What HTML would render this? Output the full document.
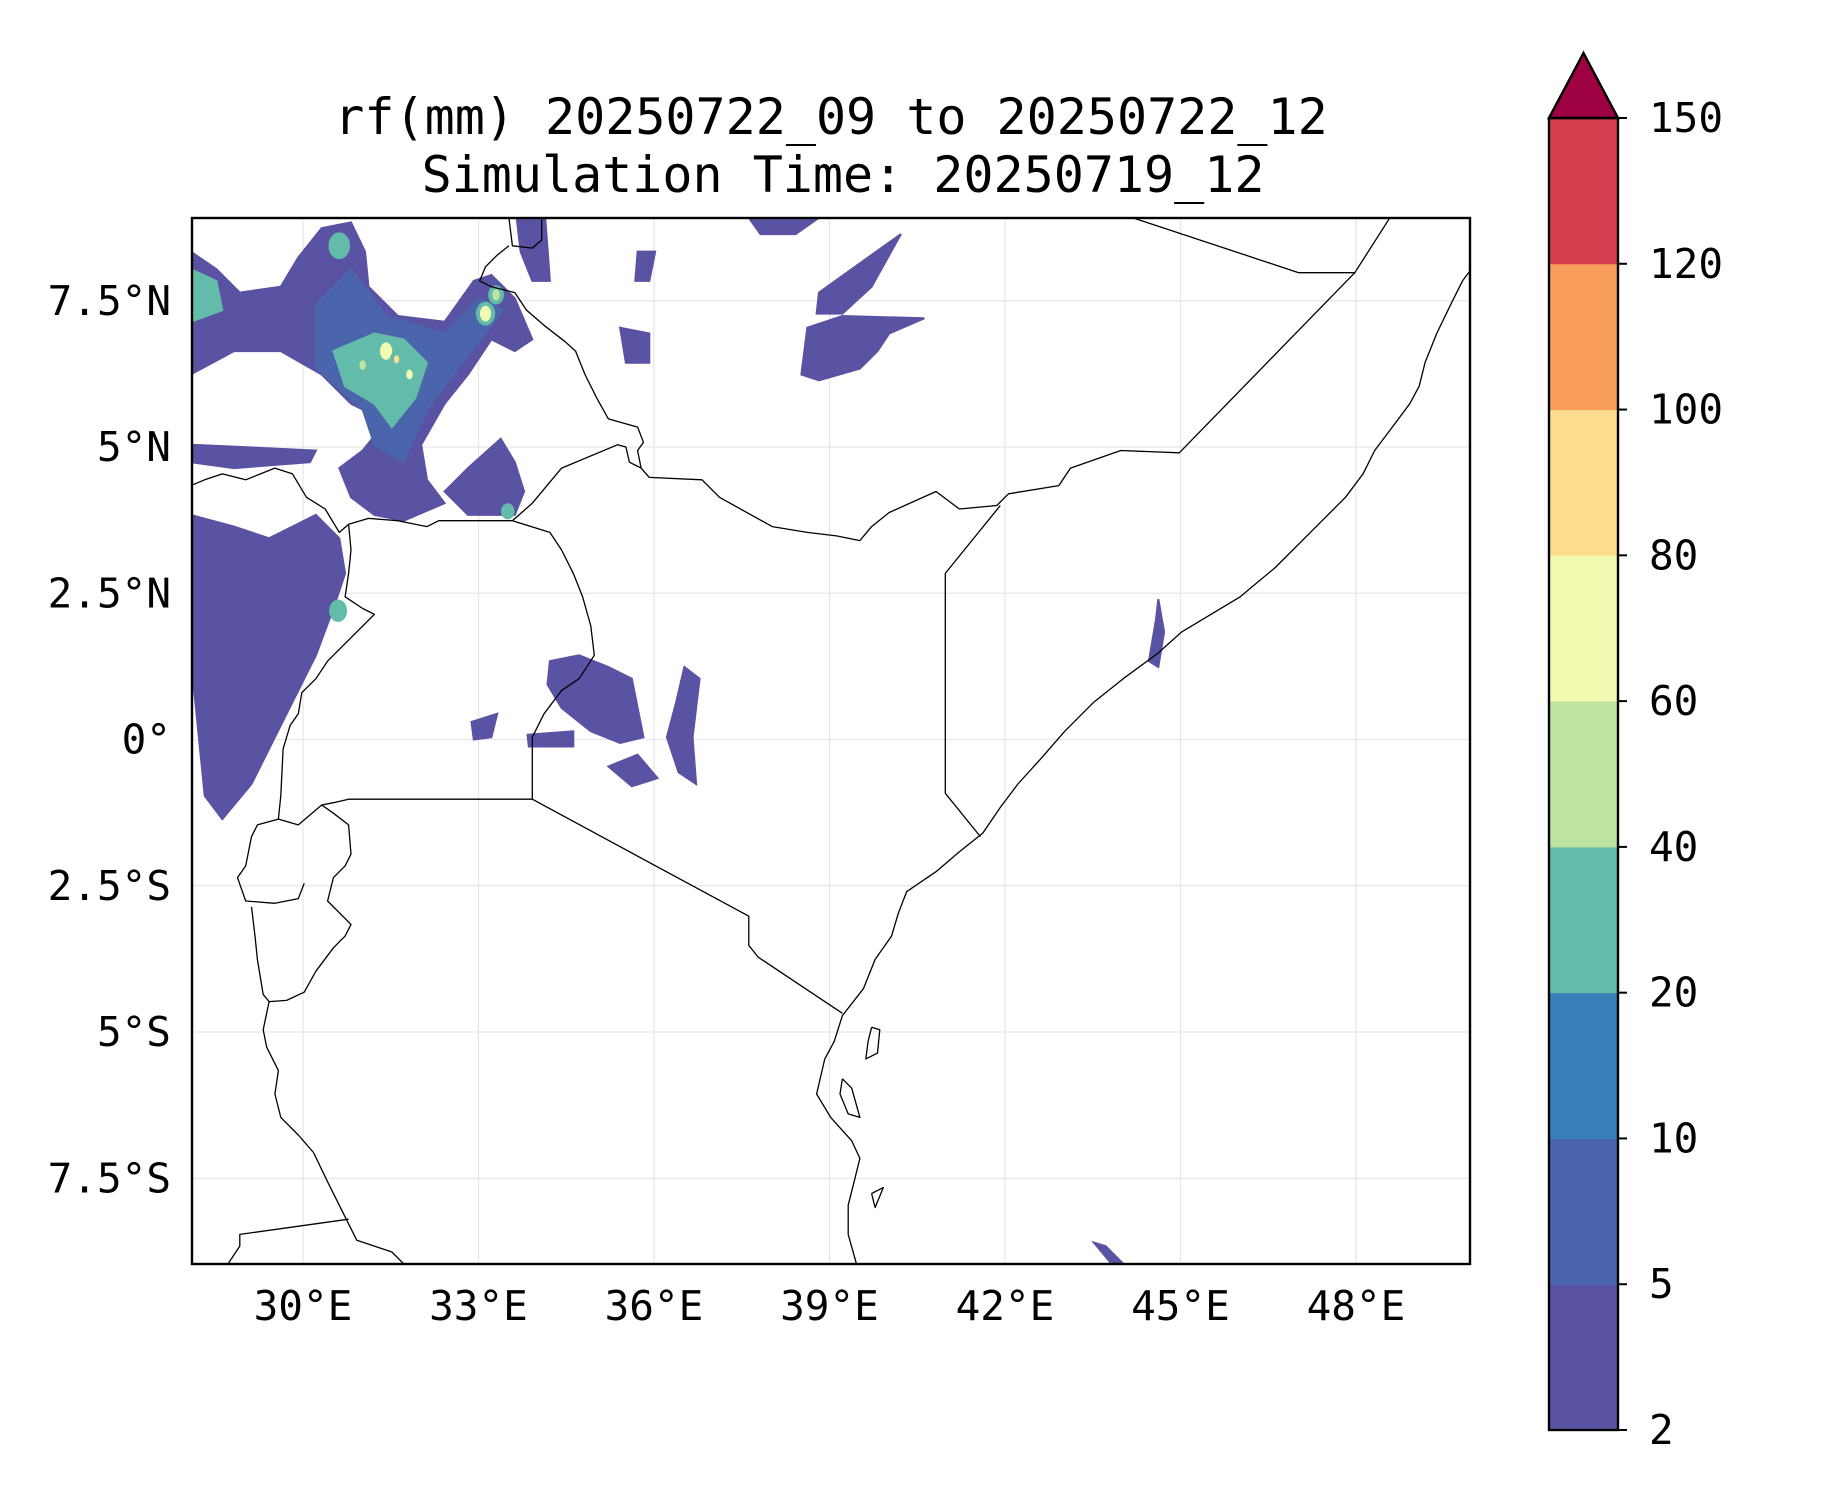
<!DOCTYPE html>
<html><head><meta charset="utf-8">
<style>
html,body{margin:0;padding:0;background:#fff;}
svg text{font-family:"DejaVu Sans Mono","Liberation Mono",monospace;fill:#000;}
</style></head>
<body>
<svg id="chart" width="1833" height="1500" viewBox="0 0 1833 1500" xmlns="http://www.w3.org/2000/svg">
  <text x="831" y="134" font-size="50" text-anchor="middle">rf(mm) 20250722_09 to 20250722_12</text>
  <text x="843" y="192" font-size="50" text-anchor="middle">Simulation Time: 20250719_12</text>
  <defs><clipPath id="plotclip"><rect x="192" y="218" width="1278" height="1046"/></clipPath></defs>
  <g id="grid"></g>
  <g id="rain" clip-path="url(#plotclip)"></g>
  <g id="geo" clip-path="url(#plotclip)"></g>
  <rect x="192" y="218" width="1278" height="1046" fill="none" stroke="#000" stroke-width="2.4"/>
  <g id="axes"></g>
  <g id="cbar"></g>
</svg>
<script>
const levels = [2,5,10,20,40,60,80,100,120,150];
const levelColors = ["#5a52a3","#4b65ad","#3780b8","#63bca9","#bde4a0","#f2f9b1","#fcdd8e","#f99d5a","#d53e4f"];
const extendColor = "#9e0142";
const lonTicks = [30,33,36,39,42,45,48];
const lonLabels = ["30°E","33°E","36°E","39°E","42°E","45°E","48°E"];
const latTicks = [7.5,5,2.5,0,-2.5,-5,-7.5];
const latLabels = ["7.5°N","5°N","2.5°N","0°","2.5°S","5°S","7.5°S"];

// rainfall regions: [levelIndex, lon/lat polygon]
const rainLevels = [0,1,3,0,0,0,0,0,0,0,0,0,0,0,0,0,0,0,0,3];
const rainShapes = [
 [[28.08,8.34],[28.52,8.04],[28.92,7.64],[29.62,7.74],[29.92,8.24],[30.32,8.74],[30.82,8.84],[31.06,8.34],[31.12,7.74],[31.62,7.24],[32.42,7.14],[32.92,7.84],[33.22,7.94],[33.62,7.54],[33.92,6.84],[33.62,6.64],[33.22,6.84],[32.82,6.24],[32.42,5.74],[32.02,5.04],[32.12,4.44],[32.42,4.04],[31.72,3.74],[31.22,3.84],[30.82,4.14],[30.62,4.64],[31.02,4.94],[31.42,5.44],[30.82,5.74],[30.32,6.24],[29.62,6.64],[28.82,6.64],[28.08,6.24]],
 [[30.22,7.44],[30.82,8.04],[31.42,7.24],[32.42,6.94],[33.02,7.54],[33.42,7.34],[32.72,6.44],[32.12,5.64],[31.72,4.74],[31.22,5.04],[31.02,5.64],[30.22,6.34]],
 [[30.52,6.64],[31.22,6.94],[31.72,6.84],[32.12,6.44],[31.92,5.84],[31.52,5.34],[31.22,5.74],[30.72,6.04]],
 [[28.08,3.84],[28.82,3.64],[29.42,3.44],[30.22,3.84],[30.62,3.44],[30.72,2.84],[30.52,2.24],[30.22,1.44],[29.92,0.84],[29.52,0.04],[29.12,-0.76],[28.62,-1.36],[28.32,-0.96],[28.08,1.44]],
 [[34.22,1.34],[34.72,1.44],[35.22,1.24],[35.62,1.04],[35.82,0.04],[35.42,-0.06],[34.92,0.14],[34.42,0.54],[34.18,0.94]],
 [[36.52,1.24],[36.78,1.04],[36.66,0.04],[36.72,-0.76],[36.42,-0.56],[36.22,0.04],[36.38,0.64]],
 [[35.22,-0.46],[35.72,-0.26],[36.06,-0.66],[35.62,-0.8]],
 [[38.62,7.04],[39.22,7.24],[40.62,7.2],[40.02,6.94],[39.82,6.64],[39.52,6.34],[38.82,6.14],[38.52,6.24]],
 [[38.82,7.64],[39.52,8.14],[40.22,8.64],[39.72,7.74],[39.22,7.28],[38.78,7.28]],
 [[37.62,8.92],[38.82,8.92],[38.42,8.64],[37.82,8.64]],
 [[44.62,2.4],[44.72,1.84],[44.62,1.24],[44.46,1.34],[44.58,2.04]],
 [[43.52,-8.6],[43.72,-8.66],[44.02,-8.96],[43.82,-8.96]],
 [[33.38,5.14],[33.62,4.74],[33.78,4.24],[33.62,3.84],[32.82,3.84],[32.42,4.24],[32.82,4.64]],
 [[35.42,7.04],[35.92,6.94],[35.92,6.44],[35.52,6.44]],
 [[33.62,9.2],[34.12,9.2],[34.22,7.84],[33.92,7.84],[33.72,8.34]],
 [[28.08,5.04],[30.22,4.94],[30.12,4.74],[28.82,4.64],[28.08,4.74]],
 [[32.88,0.3],[33.32,0.44],[33.22,0.04],[32.92,0.0]],
 [[33.84,0.08],[34.62,0.14],[34.62,-0.12],[33.86,-0.12]],
 [[35.72,8.34],[36.02,8.34],[35.92,7.84],[35.68,7.84]],
 [[28.08,8.04],[28.52,7.84],[28.62,7.34],[28.08,7.14]]
];
// intense spots
const spotLon = [31.42,31.02,31.82,33.12,33.3,30.6,33.5,30.62,31.6];
const spotLat = [6.64,6.4,6.24,7.28,7.6,2.2,3.9,8.44,6.5];
const spotR   = [0.14,0.09,0.09,0.13,0.1,0.12,0.08,0.15,0.08];
const spotLvl = [5,4,5,5,4,3,3,3,6];

const geoLines = [
 [[49.94,8.0],[49.82,7.84],[49.62,7.44],[49.38,6.94],[49.18,6.44],[49.08,6.04],[48.92,5.74],[48.62,5.34],[48.32,4.94],[48.12,4.54],[47.82,4.14],[47.22,3.54],[46.62,2.94],[46.02,2.44],[45.02,1.84],[44.62,1.48],[44.02,1.04],[43.52,0.64],[43.02,0.14],[42.62,-0.32],[42.22,-0.76],[41.92,-1.16],[41.62,-1.6],[41.22,-1.92],[40.82,-2.26],[40.32,-2.6],[40.18,-2.96],[40.06,-3.36],[39.78,-3.76],[39.58,-4.26],[39.22,-4.72],[39.08,-5.16],[38.92,-5.46],[38.78,-6.06],[39.02,-6.46],[39.38,-6.86],[39.52,-7.16],[39.42,-7.56],[39.32,-7.96],[39.32,-8.46],[39.46,-8.96]],
 [[44.18,8.92],[47.02,7.98],[47.98,7.98],[48.58,8.92]],
 [[47.98,7.98],[44.98,4.9],[43.98,4.94],[43.12,4.64],[42.92,4.34],[42.06,4.2],[41.86,4.0],[41.22,3.94],[40.82,4.24],[40.02,3.88],[39.72,3.64],[39.52,3.4],[39.12,3.48],[38.62,3.54],[38.02,3.64],[37.12,4.14],[36.82,4.44],[35.92,4.48],[35.78,4.64],[35.58,4.74],[35.52,5.0],[35.38,5.04],[34.42,4.64],[33.92,4.04],[33.58,3.74]],
 [[41.92,4.0],[40.98,2.84],[40.98,-0.92],[41.58,-1.66]],
 [[33.58,3.74],[34.22,3.54],[34.42,3.24],[34.62,2.84],[34.78,2.44],[34.92,1.94],[34.98,1.44],[34.72,1.04],[34.42,0.84],[34.12,0.44],[33.92,0.04],[33.92,-1.02],[37.62,-3.02],[37.62,-3.52],[37.78,-3.72],[39.22,-4.68]],
 [[33.92,-1.02],[30.78,-1.02],[30.52,-1.08],[30.32,-1.12]],
 [[33.52,8.92],[33.58,8.44],[33.92,8.4],[34.08,8.54],[34.08,8.92]],
 [[33.52,8.44],[33.32,8.28],[33.12,8.08],[33.02,7.84],[33.22,7.74],[33.62,7.64],[33.82,7.34],[34.12,7.08],[34.48,6.8],[34.66,6.64],[34.82,6.24],[35.02,5.84],[35.22,5.48],[35.72,5.34],[35.82,5.08],[35.72,4.94],[35.78,4.64]],
 [[30.78,3.68],[31.12,3.78],[31.62,3.74],[32.12,3.64],[32.32,3.74],[32.82,3.74],[33.58,3.74]],
 [[30.78,3.68],[30.82,3.24],[30.78,2.84],[30.72,2.44],[31.02,2.24],[31.22,2.14],[30.82,1.74],[30.42,1.34],[30.22,1.04],[29.98,0.8],[29.92,0.44],[29.78,0.24],[29.66,-0.16],[29.62,-0.96],[29.58,-1.36]],
 [[28.08,4.34],[28.32,4.44],[28.62,4.54],[29.02,4.44],[29.52,4.64],[29.82,4.54],[30.06,4.14],[30.38,3.94],[30.62,3.54],[30.78,3.68]],
 [[29.58,-1.36],[29.22,-1.46],[29.12,-1.66],[29.02,-2.16],[28.88,-2.36],[29.02,-2.76],[29.52,-2.8],[29.92,-2.72],[30.02,-2.46]],
 [[29.58,-1.36],[29.92,-1.46],[30.32,-1.12],[30.52,-1.26],[30.78,-1.46],[30.82,-1.96],[30.72,-2.16],[30.52,-2.36],[30.42,-2.76],[30.82,-3.16],[30.72,-3.36],[30.52,-3.56],[30.22,-3.96],[30.02,-4.32],[29.72,-4.46],[29.42,-4.48],[29.32,-4.36],[29.22,-3.76],[29.18,-3.36],[29.12,-2.86]],
 [[29.42,-4.48],[29.32,-4.96],[29.38,-5.26],[29.58,-5.66],[29.52,-6.06],[29.62,-6.46],[29.92,-6.76],[30.18,-7.06],[30.42,-7.56],[30.72,-8.16],[30.92,-8.56],[31.22,-8.66],[31.52,-8.76],[31.72,-8.96]],
 [[28.72,-8.96],[28.92,-8.66],[28.92,-8.46],[30.78,-8.2]],
 [[39.72,-4.92],[39.86,-4.96],[39.82,-5.36],[39.62,-5.46],[39.66,-5.16],[39.72,-4.92]],
 [[39.22,-5.8],[39.38,-5.96],[39.52,-6.46],[39.32,-6.4],[39.18,-6.06],[39.22,-5.8]],
 [[39.72,-7.76],[39.92,-7.66],[39.78,-8.0],[39.72,-7.76]]
];

const NS = "http://www.w3.org/2000/svg";
const PPD = 58.5;
function X(lon){ return 303 + (lon - 30) * PPD; }
function Y(lat){ return 739.5 - lat * PPD; }
function mk(tag, attrs, parent){ const e = document.createElementNS(NS, tag); for (const k in attrs) e.setAttribute(k, attrs[k]); parent.appendChild(e); return e; }
function pts(arr){ return arr.map(p => X(p[0]).toFixed(1) + "," + Y(p[1]).toFixed(1)).join(" "); }

const grid = document.getElementById("grid");
lonTicks.forEach((t,i) => {
  const l = mk("line", {x1:X(t), x2:X(t), y1:218, y2:1264, stroke:"#e6e6e6", "stroke-width":1.2}, grid);
  
  
});
latTicks.forEach((t,i) => {
  const l = mk("line", {x1:192, x2:1470, y1:Y(t), y2:Y(t), stroke:"#e6e6e6", "stroke-width":1.2}, grid);
  
  
});

const rain = document.getElementById("rain");
rainShapes.forEach((s,i) => {
  const p = mk("polygon", {points:pts(s), fill:levelColors[rainLevels[i]], stroke:levelColors[rainLevels[i]], "stroke-width":2}, rain);
  
  
});
spotLon.forEach((lon,i) => {
  const c = mk("ellipse", {cx:X(lon), cy:Y(spotLat[i]), rx:spotR[i]*PPD, ry:spotR[i]*PPD*1.3, fill:levelColors[spotLvl[i]], stroke:levelColors[3], "stroke-width":4}, rain);
  
  
});

const geo = document.getElementById("geo");
geoLines.forEach(g => {
  const l = mk("polyline", {points:pts(g), fill:"none", stroke:"#000", "stroke-width":1.3, "stroke-linejoin":"round"}, geo);
  
  
});

const axes = document.getElementById("axes");
lonTicks.forEach((t,i) => {
  const tx = mk("text", {x:X(t), y:1320, "font-size":41, "text-anchor":"middle"}, axes);
  tx.textContent = lonLabels[i];
  
  
});
latTicks.forEach((t,i) => {
  const tx = mk("text", {x:171, y:Y(t)+14, "font-size":41, "text-anchor":"end"}, axes);
  tx.textContent = latLabels[i];
  
  
});

const cbar = document.getElementById("cbar");
const cbTop = 118, cbBot = 1430, cbX = 1549, cbW = 69;
const step = (cbBot - cbTop) / (levels.length - 1);
levelColors.forEach((c,i) => {
  const r = mk("rect", {x:cbX, y:cbBot-(i+1)*step, width:cbW, height:step+0.5, fill:c}, cbar);
  
  
});
const tri = mk("polygon", {points:`${cbX},${cbTop} ${cbX+cbW/2},53 ${cbX+cbW},${cbTop}`, fill:extendColor, stroke:"#000", "stroke-width":2.4}, cbar);


const frame = mk("rect", {x:cbX, y:cbTop, width:cbW, height:cbBot-cbTop, fill:"none", stroke:"#000", "stroke-width":2.4}, cbar);


levels.forEach((v,i) => {
  const y = cbBot - i*step;
  const tk = mk("line", {x1:cbX+cbW, x2:cbX+cbW+9, y1:y, y2:y, stroke:"#000", "stroke-width":2}, cbar);
  
  
  const tx = mk("text", {x:1649, y:y+14, "font-size":41}, cbar);
  tx.textContent = v;
  
  
});
</script>
</body></html>
